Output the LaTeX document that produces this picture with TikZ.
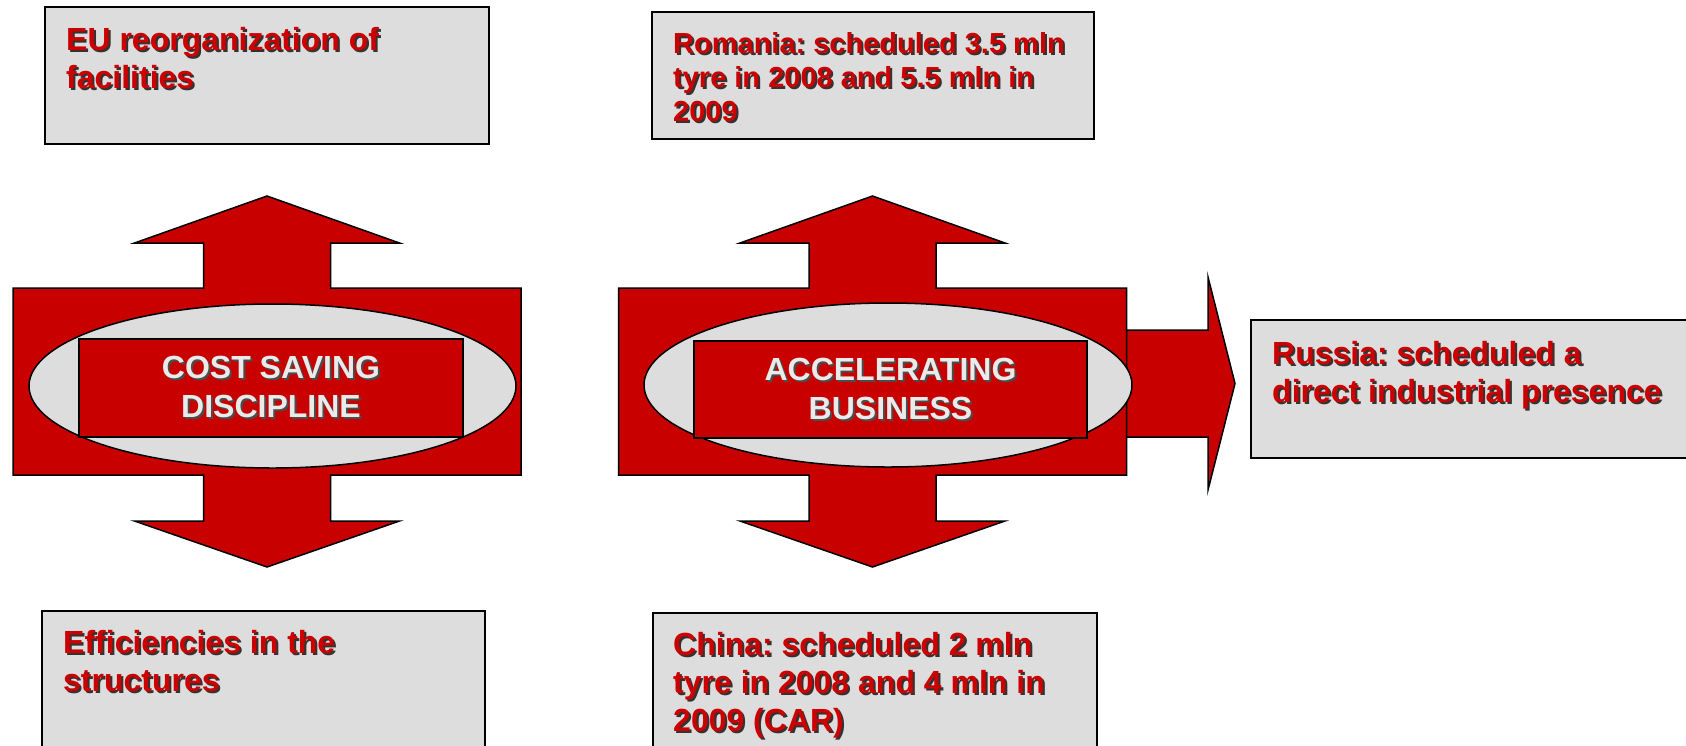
\documentclass[tikz,border=0pt]{standalone}
\usepackage{fontspec}
\setmainfont{Liberation Sans}
\usetikzlibrary{shapes.geometric}
\definecolor{arrowred}{RGB}{200,0,0}
\definecolor{textred}{RGB}{204,0,0}
\definecolor{panelgrey}{RGB}{221,221,221}
\definecolor{labelwhite}{RGB}{234,234,234}
\newcommand{\shtxt}[2][black!80]{\leavevmode\rlap{\kern2pt\raisebox{-2pt}{\textcolor{#1}{#2}}}#2}
\frenchspacing

\begin{document}
\begin{tikzpicture}[x=1pt,y=-1pt,
    panel/.style={draw=black,line width=2pt,fill=panelgrey,inner sep=0pt,anchor=north west},
    note/.style={text=textred,font=\bfseries\fontsize{32}{38}\selectfont,align=left,inner sep=0pt,anchor=north west},
    smallnote/.style={note,font=\bfseries\fontsize{29}{34}\selectfont},
    block/.style={draw=black,line width=1.5pt,fill=arrowred},
    halo/.style={ellipse,draw=black,line width=1.5pt,fill=panelgrey,inner sep=0pt},
    core/.style={draw=black,line width=1.5pt,fill=arrowred,inner sep=0pt,text=labelwhite,align=center,
        font=\bfseries\fontsize{32}{39}\selectfont},
    ]
    \useasboundingbox (0,0) rectangle (1686,745);

    % grey panels round the two blocks
    \node[panel,minimum width=444pt,minimum height=137pt] (eu) at (44,6) {};
    \node[note] (eutext) at ([shift={(22,21)}]eu.north west)
        {\shtxt{EU reorganization of}\\\shtxt{facilities}};
    \node[panel,minimum width=443pt,minimum height=150pt] (eff) at (41,610) {};
    \node[note] (efftext) at ([shift={(22,20)}]eff.north west)
        {\shtxt{Efficiencies in the}\\\shtxt{structures}};
    \node[panel,minimum width=442pt,minimum height=127pt] (romania) at (651,11) {};
    \node[smallnote] (romaniatext) at ([shift={(22,21)}]romania.north west)
        {\shtxt{Romania: scheduled 3.5 mln}\\\shtxt{tyre in 2008 and 5.5 mln in}\\\shtxt{2009}};
    \node[panel,minimum width=444pt,minimum height=150pt] (china) at (652,612) {};
    \node[note] (chinatext) at ([shift={(21,20)}]china.north west)
        {\shtxt{China: scheduled 2 mln}\\\shtxt{tyre in 2008 and 4 mln in}\\\shtxt{2009 (CAR)}};
    \node[panel,minimum width=460pt,minimum height=138pt] (russia) at (1250,319) {};
    \node[note] (russiatext) at ([shift={(22,22)}]russia.north west)
        {\shtxt{Russia: scheduled a}\\\shtxt{direct industrial presence}};

    % arrow towards Russia
    \draw[block] (1126,330) -- (1208,330) -- (1208,277) -- (1235,383.5) -- (1208,490) -- (1208,437) -- (1126,437) -- cycle;

    % the two double arrows
    \foreach \cx in {267,872.5} {
        \draw[block] (\cx,196) -- (\cx+132.5,243) -- (\cx+63.5,243) -- (\cx+63.5,288)
            -- (\cx+254,288) -- (\cx+254,475) -- (\cx+63.5,475) -- (\cx+63.5,521)
            -- (\cx+132.5,521) -- (\cx,567) -- (\cx-132.5,521) -- (\cx-63.5,521)
            -- (\cx-63.5,475) -- (\cx-254,475) -- (\cx-254,288) -- (\cx-63.5,288)
            -- (\cx-63.5,243) -- (\cx-132.5,243) -- cycle;
    }

    \node[halo,minimum width=487pt,minimum height=164pt] (csring) at (272.5,386) {};
    \node[core,minimum width=384pt,minimum height=98pt] (cscore) at (271,388)
        {\shtxt[black!70]{COST SAVING}\\\shtxt[black!70]{DISCIPLINE}};
    \node[halo,minimum width=488pt,minimum height=164pt] (abring) at (888,385) {};
    \node[core,minimum width=393pt,minimum height=97pt] (abcore) at (890.5,389.5)
        {\shtxt[black!70]{ACCELERATING}\\\shtxt[black!70]{BUSINESS}};

\end{tikzpicture}
\end{document}
